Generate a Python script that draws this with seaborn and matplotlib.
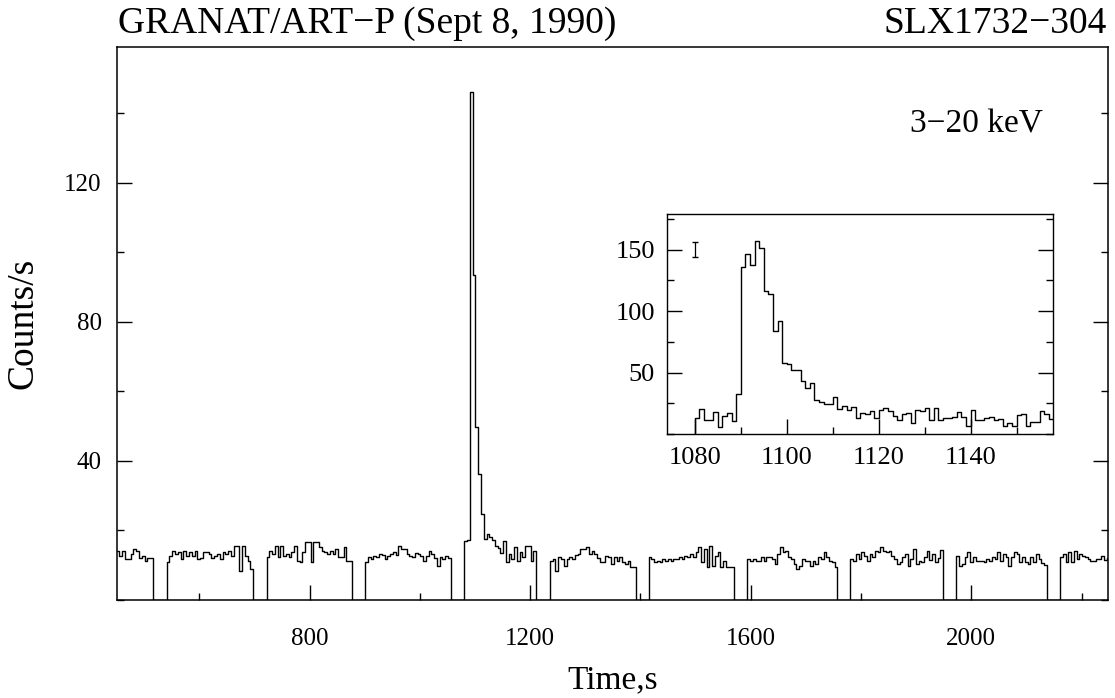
import numpy as np
import pandas as pd
import seaborn as sns
import matplotlib.pyplot as plt
from matplotlib.ticker import MultipleLocator

# observation segments (start, end in s) and 5-s count rates in each
seg_start = [450, 541, 722, 901, 1081, 1236, 1415, 1594, 1781, 1973, 2161]
seg_end = [516, 698, 877, 1056, 1211, 1392, 1570, 1757, 1949, 2137, 2251]

seg01 = [14.2, 12.7, 14.2, 11.8, 11.8, 13.2, 14.7, 14.2, 12.2, 12.7, 11.3, 12.2, 12.2]
seg02 = [10.8, 12.7, 14.2, 13.2, 13.7, 11.8, 14.2, 12.7, 13.7, 12.7, 14.2, 11.8, 12.2, 13.7, 13.7, 13.2,
         12.2, 12.7, 13.2, 11.8, 13.7, 13.2, 14.2, 12.7, 15.6, 15.6, 8.4, 15.6, 12.7, 11.3, 8.9]
seg03 = [12.3, 14.2, 13.2, 15.6, 12.3, 15.6, 12.7, 13.2, 12.3, 13.7, 15.6, 11.3, 10.8, 13.7, 16.6, 16.6,
         10.8, 16.6, 16.8, 15.1, 14.2, 13.7, 13.2, 14.2, 13.2, 14.7, 12.3, 12.3, 15.1, 11.3, 11.3]
seg04 = [10.8, 12.3, 11.8, 12.7, 12.3, 13.2, 12.8, 11.8, 12.7, 13.2, 13.7, 12.9, 15.6, 14.7, 14.7, 13.2,
         12.7, 12.3, 13.6, 13.2, 12.7, 11.3, 12.7, 14.2, 13.2, 12.1, 9.9, 12.3, 11.8, 12.7, 12.2]
seg05 = [17.0, 17.3, 146.0, 93.4, 49.8, 36.2, 24.7, 17.5, 19.0, 18.0, 17.2, 15.5, 15.0, 13.6, 17.0, 10.8,
         13.2, 11.8, 15.1, 11.3, 13.7, 12.3, 15.6, 15.6, 11.3, 14.2]
seg06 = [11.3, 11.8, 8.4, 12.3, 11.8, 9.9, 11.8, 12.3, 11.8, 12.8, 13.2, 14.7, 14.7, 15.1, 13.2, 14.2,
         13.2, 12.2, 10.8, 10.8, 12.7, 12.3, 10.3, 12.3, 11.3, 12.3, 11.0, 10.3, 11.2, 9.4, 9.6]
seg07 = [12.3, 11.8, 10.8, 11.3, 10.8, 11.8, 11.3, 11.8, 11.3, 11.8, 11.8, 12.3, 11.8, 12.7, 12.3, 13.2,
         12.3, 13.7, 15.1, 10.8, 14.7, 9.4, 15.6, 9.9, 12.6, 13.9, 9.4, 11.2, 9.4, 9.4, 9.6]
seg08 = [11.8, 11.3, 11.8, 11.3, 11.3, 12.3, 11.3, 12.3, 12.3, 11.8, 10.3, 13.2, 15.1, 13.7, 14.2, 12.3,
         11.8, 10.3, 8.9, 9.9, 11.8, 11.3, 11.3, 9.9, 11.3, 10.3, 12.3, 11.8, 13.7, 12.3, 11.3, 10.8, 9.4]
seg09 = [11.8, 11.3, 13.2, 11.8, 13.7, 12.7, 11.3, 13.2, 12.3, 14.2, 13.7, 15.1, 14.2, 13.7, 14.2, 12.7,
         11.8, 10.3, 10.8, 12.3, 13.2, 9.9, 11.8, 14.7, 10.3, 11.3, 10.8, 12.3, 14.2, 11.6, 13.1, 10.9,
         12.0, 14.5]
seg10 = [12.7, 9.9, 10.3, 12.3, 13.7, 10.8, 12.3, 11.3, 11.3, 11.3, 10.8, 11.8, 11.3, 12.3, 11.8, 13.7,
         11.3, 13.2, 12.3, 9.9, 12.3, 13.7, 13.2, 10.8, 12.3, 10.8, 10.3, 12.4, 11.0, 13.3, 11.7, 10.6, 10.0]
seg11 = [12.3, 13.2, 10.8, 13.7, 10.8, 14.2, 11.8, 13.2, 12.7, 12.3, 11.8, 11.3, 11.3, 11.8, 11.8, 12.6,
         11.4, 12.2]
seg_rates = [seg01, seg02, seg03, seg04, seg05, seg06, seg07, seg08, seg09, seg10, seg11]

# inset: 1-s bins starting at 1080 s
ins_start = 1080
ins_rates = [12.9, 20.2, 11.8, 11.8, 18.0, 5.6, 15.0, 16.9, 10.7, 32.5, 135.5, 146.8, 137.9, 156.7, 151.3,
             116.4, 113.7, 84.1, 91.6, 58.0, 57.3, 52.1, 52.1, 43.2, 37.3, 41.9, 27.9, 26.3, 24.4, 24.4,
             29.8, 20.4, 22.6, 19.6, 21.8, 13.1, 17.2, 16.6, 19.1, 12.9, 19.6, 21.2, 19.1, 14.5, 11.8,
             16.4, 17.2, 9.1, 19.6, 18.5, 20.9, 11.8, 21.4, 11.8, 12.9, 13.1, 13.7, 17.7, 13.7, 6.9, 19.6,
             11.8, 11.8, 12.9, 13.7, 11.0, 12.4, 6.9, 9.1, 6.9, 15.6, 16.6, 6.3, 9.6, 9.6, 18.5, 16.4, 12.4]
err_t, err_rate, err_size = 1080, 150, 6

main_yticks = [40, 80, 120]
inset_yticks = [50, 100, 150]

# build step curves
t, r = [], []
for s, e, v in zip(seg_start, seg_end, seg_rates):
    edges = np.linspace(s, e, len(v) + 1)
    t += list(edges[:-1]) + [edges[-1]]
    r += list(v) + [0.0]
lc = pd.DataFrame({'t': t, 'rate': r})

ti = [ins_start] + list(ins_start + np.arange(len(ins_rates) + 1))
ri = [0.0] + ins_rates + [ins_rates[-1]]
inset = pd.DataFrame({'t': ti, 'rate': ri})

sns.set_style('ticks')
plt.rcParams['font.family'] = ['Liberation Serif', 'DejaVu Serif']
plt.rcParams.update({'text.color': 'black', 'axes.labelcolor': 'black', 'axes.edgecolor': 'black',
                     'xtick.color': 'black', 'ytick.color': 'black'})

fig = plt.figure(figsize=(11.15, 6.98), dpi=100)
ax = fig.add_axes([0.105, 0.1404, 0.8887, 0.7923])
sns.lineplot(data=lc, x='t', y='rate', drawstyle='steps-post', color='black', lw=1.0,
             estimator=None, sort=False, ax=ax)
ax.set_xlim(451, 2248)
ax.set_ylim(0, 159)
ax.xaxis.set_major_locator(MultipleLocator(400))
ax.xaxis.set_minor_locator(MultipleLocator(200))
ax.set_yticks(main_yticks)
ax.yaxis.set_minor_locator(MultipleLocator(20))
ax.tick_params(which='both', direction='in', right=True, width=1, labelsize=18)
ax.tick_params(axis='x', pad=20)
ax.tick_params(axis='y', pad=11)
ax.tick_params(which='major', length=11)
ax.tick_params(which='minor', length=5)
ax.set_xlabel('Time,s', fontsize=24)
ax.set_ylabel('Counts/s', fontsize=27)
ax.xaxis.set_label_coords(0.5, -0.118)
ax.yaxis.set_label_coords(-0.077, 0.5)
for sp in ax.spines.values():
    sp.set_linewidth(1.1)
ax.text(0.934, 0.86, '3\u221220 keV', transform=ax.transAxes, ha='right', va='center', fontsize=24)
fig.text(0.106, 0.966, 'GRANAT/ART\u2212P (Sept 8, 1990)', ha='left', va='center', fontsize=27)
fig.text(0.993, 0.966, 'SLX1732\u2212304', ha='right', va='center', fontsize=27)

axi = fig.add_axes([0.5985, 0.3782, 0.3462, 0.3152])
sns.lineplot(data=inset, x='t', y='rate', drawstyle='steps-post', color='black', lw=1.0,
             estimator=None, sort=False, ax=axi)
axi.errorbar([err_t], [err_rate], yerr=err_size, color='black', capsize=2, lw=0.9)
axi.set_xlim(1074, 1158)
axi.set_ylim(0, 179)
axi.xaxis.set_major_locator(MultipleLocator(20))
axi.xaxis.set_minor_locator(MultipleLocator(10))
axi.set_yticks(inset_yticks)
axi.yaxis.set_minor_locator(MultipleLocator(25))
axi.tick_params(which='both', direction='in', right=True, width=1, labelsize=19, pad=9)
axi.tick_params(which='major', length=11)
axi.tick_params(which='minor', length=5)
axi.set_xlabel('')
axi.set_ylabel('')
for sp in axi.spines.values():
    sp.set_linewidth(1.0)

fig.savefig('out.png', dpi=100)
